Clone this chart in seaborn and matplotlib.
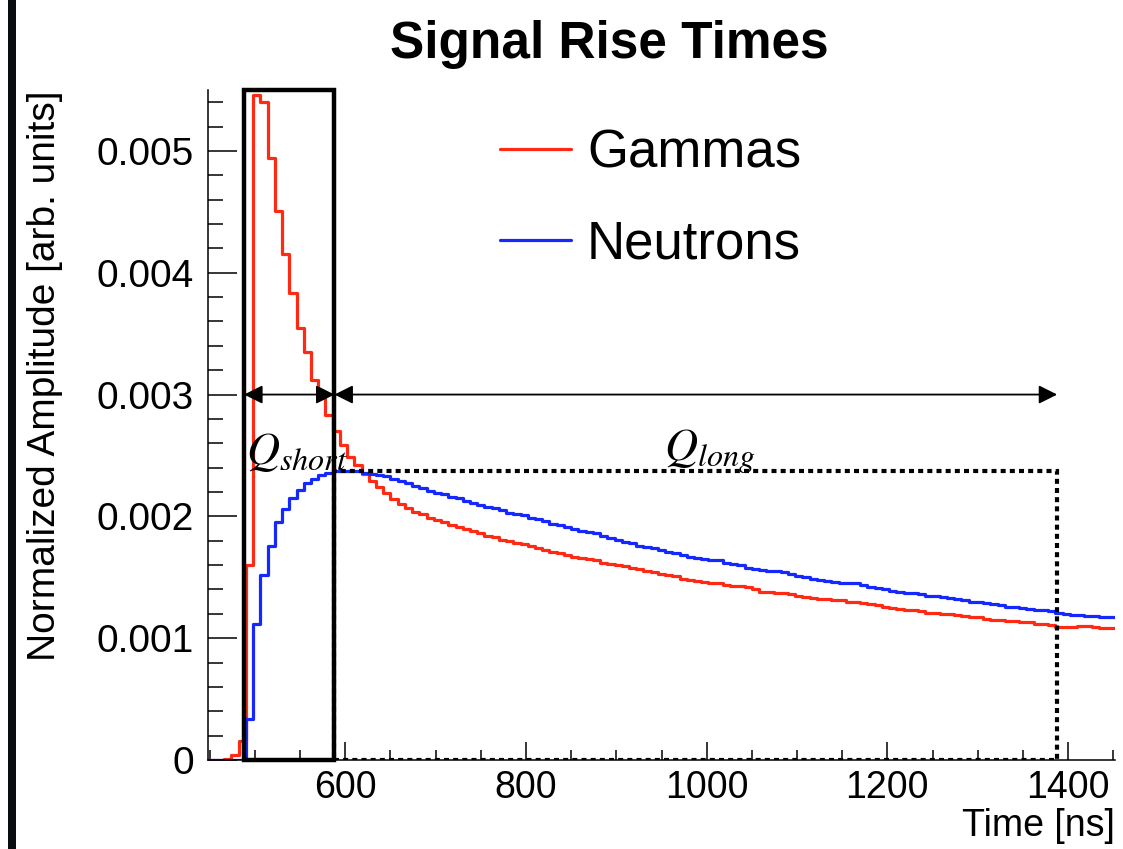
import numpy as np
import pandas as pd
import seaborn as sns
import matplotlib.pyplot as plt
from matplotlib.patches import Rectangle
from matplotlib.ticker import MultipleLocator, FuncFormatter
from matplotlib import font_manager

# ---- Data (8 ns bins starting at 450 ns) ----
bin_start = 450
bin_width = 8

gammas = [
    0, 0, 0.00001, 0.00004, 0.00016, 0.00160, 0.00546, 0.00540,
    0.00494, 0.00451, 0.00415, 0.00383, 0.00355, 0.00335, 0.00312, 0.00300,
    0.00283, 0.00270, 0.00259, 0.00249, 0.00242, 0.00235, 0.00229, 0.00224,
    0.00219, 0.00214, 0.00210, 0.00207, 0.00204, 0.00202, 0.00199, 0.00197,
    0.00195, 0.00193, 0.00191, 0.00190, 0.00188, 0.00186, 0.00184, 0.00183,
    0.00181, 0.00180, 0.00178, 0.00177, 0.00176, 0.00174, 0.00172, 0.00171,
    0.00170, 0.00168, 0.00167, 0.00166, 0.00165, 0.00164, 0.00162, 0.00161,
    0.00160, 0.00159, 0.00158, 0.00157, 0.00155, 0.00154, 0.00153, 0.00152,
    0.00151, 0.00149, 0.00148, 0.00147, 0.00146, 0.00145, 0.00145, 0.00144,
    0.00143, 0.00143, 0.00142, 0.00140, 0.00138, 0.00138, 0.00137, 0.00137,
    0.00136, 0.00135, 0.00134, 0.00133, 0.00132, 0.00132, 0.00131, 0.00131,
    0.00130, 0.00130, 0.00129, 0.00128, 0.00127, 0.00126, 0.00125, 0.00124,
    0.00123, 0.00123, 0.00122, 0.00121, 0.00121, 0.00120, 0.00120, 0.00119,
    0.00118, 0.00117, 0.00117, 0.00116, 0.00115, 0.00115, 0.00114, 0.00114,
    0.00113, 0.00113, 0.00112, 0.00112, 0.00111, 0.00109, 0.00109, 0.00109,
    0.00110, 0.00110, 0.00109, 0.00108, 0.00108, 0.00108,
]

neutrons = [
    0, 0, 0, 0, 0, 0.00034, 0.00112, 0.00152,
    0.00176, 0.00195, 0.00206, 0.00215, 0.00222, 0.00227, 0.00231, 0.00234,
    0.00236, 0.00237, 0.00237, 0.00237, 0.00237, 0.00236, 0.00235, 0.00234,
    0.00233, 0.00231, 0.00229, 0.00227, 0.00225, 0.00223, 0.00221, 0.00219,
    0.00218, 0.00216, 0.00215, 0.00213, 0.00211, 0.00209, 0.00208, 0.00207,
    0.00205, 0.00203, 0.00202, 0.00201, 0.00199, 0.00198, 0.00196, 0.00194,
    0.00193, 0.00191, 0.00190, 0.00188, 0.00187, 0.00186, 0.00184, 0.00182,
    0.00181, 0.00179, 0.00178, 0.00176, 0.00175, 0.00174, 0.00172, 0.00171,
    0.00170, 0.00168, 0.00167, 0.00166, 0.00165, 0.00164, 0.00164, 0.00162,
    0.00161, 0.00160, 0.00158, 0.00157, 0.00156, 0.00155, 0.00155, 0.00154,
    0.00153, 0.00151, 0.00150, 0.00149, 0.00148, 0.00147, 0.00146, 0.00145,
    0.00145, 0.00145, 0.00144, 0.00142, 0.00141, 0.00140, 0.00139, 0.00138,
    0.00137, 0.00137, 0.00136, 0.00135, 0.00135, 0.00134, 0.00133, 0.00132,
    0.00131, 0.00130, 0.00130, 0.00129, 0.00128, 0.00127, 0.00126, 0.00126,
    0.00125, 0.00124, 0.00123, 0.00123, 0.00122, 0.00121, 0.00120, 0.00119,
    0.00119, 0.00118, 0.00118, 0.00117, 0.00117, 0.00117,
]

series_names = ['Gammas', 'Neutrons']
# integration windows [ns]
q_short = (488, 588)
q_long = (588, 1388)
neutron_peak = 0.00237
arrow_level = 0.003

# ---- Build long-form table for step drawing ----
edges = bin_start + bin_width * np.arange(len(gammas) + 1)
df = pd.DataFrame({
    'Time': np.concatenate([edges, edges]),
    'Amplitude': gammas + [gammas[-1]] + neutrons + [neutrons[-1]],
    'Particle': [series_names[0]] * len(edges) + [series_names[1]] * len(edges),
})

# ---- Style ----
sns.set_style('ticks')
plt.rcParams['font.family'] = ['Liberation Sans', 'DejaVu Sans']
plt.rcParams['mathtext.fontset'] = 'stix'
for key in ['text.color', 'axes.labelcolor', 'xtick.color', 'ytick.color', 'axes.edgecolor']:
    plt.rcParams[key] = 'black'
names = {f.name for f in font_manager.fontManager.ttflist}
narrow = 'Liberation Sans Narrow' if 'Liberation Sans Narrow' in names else 'Liberation Sans'

fig = plt.figure(figsize=(11.23, 8.49), dpi=100)
ax = fig.add_axes([0.1852, 0.1048, 0.8077, 0.7892])

palette = {'Gammas': '#ff2a14', 'Neutrons': '#1428ff'}
sns.lineplot(data=df, x='Time', y='Amplitude', hue='Particle', palette=palette,
             drawstyle='steps-post', estimator=None, lw=2.3, legend=False, ax=ax)

ax.set_xlim(448, 1452)
ax.set_ylim(0, 0.0055)

# ---- Legend ----
ax.legend(handles=ax.lines[:2], labels=series_names, loc='upper left',
          bbox_to_anchor=(500 / 1123, 1 - 128 / 849), bbox_transform=fig.transFigure,
          frameon=False, fontsize=38, handlelength=1.35, handletextpad=0.3,
          labelspacing=0.78, borderpad=0, borderaxespad=0)

# ---- Integration windows ----
ax.add_patch(Rectangle((q_short[0], 0), q_short[1] - q_short[0], 0.0055,
                       fill=False, ec='black', lw=3.2, zorder=5, clip_on=False))
ax.add_patch(Rectangle((q_long[0], 0), q_long[1] - q_long[0], neutron_peak,
                       fill=False, ec='black', lw=3, ls=(0, (1.2, 1.0)), zorder=4))

arrow_props = dict(arrowstyle='<|-|>', color='black', lw=1.3,
                   mutation_scale=28, shrinkA=0, shrinkB=0)
ax.annotate('', xy=(q_short[0], arrow_level), xytext=(q_short[1], arrow_level),
            arrowprops=arrow_props, zorder=6)
ax.annotate('', xy=(q_long[0], arrow_level), xytext=(q_long[1], arrow_level),
            arrowprops=arrow_props, zorder=6)

ax.text(490, 0.00253, r'$Q_{short}$', fontsize=33, ha='left', va='center')
ax.text(1003, 0.00253, r'$Q_{long}$', fontsize=33, ha='center', va='center')

# ---- Axes styling ----
sns.despine(ax=ax, top=True, right=True)
for side in ['left', 'bottom']:
    ax.spines[side].set_linewidth(1.1)
ax.xaxis.set_major_locator(MultipleLocator(200))
ax.xaxis.set_minor_locator(MultipleLocator(50))
ax.yaxis.set_major_locator(MultipleLocator(0.001))
ax.yaxis.set_minor_locator(MultipleLocator(0.0002))
ax.yaxis.set_major_formatter(FuncFormatter(lambda v, p: '0' if v == 0 else f'{v:.3f}'))
ax.tick_params(axis='y', which='major', direction='in', length=21, width=1.1,
               labelsize=28, pad=10)
ax.tick_params(axis='y', which='minor', direction='in', length=11, width=1.1)
ax.tick_params(axis='x', which='major', direction='in', length=13, width=1.1,
               labelsize=27, pad=7)
ax.tick_params(axis='x', which='minor', direction='in', length=7, width=1.1)
ax.set_xlabel('')
ax.set_ylabel('')

# ---- Texts ----
fig.text(0.543, 0.947, 'Signal Rise Times', fontsize=37, fontweight='bold',
         ha='center', va='center')
fig.text(0.040, 0.558, 'Normalized Amplitude [arb. units]', fontsize=28,
         family=narrow, rotation=90, ha='center', va='center')
fig.text(0.993, 0.027, 'Time [ns]', fontsize=27, ha='right', va='center')

# black frame edge on the left of the panel
fig.patches.append(Rectangle((8 / 1123, 0), 8 / 1123, 1, transform=fig.transFigure,
                             facecolor='#0a0d10', edgecolor='none'))

fig.savefig('out.png', dpi=100)
